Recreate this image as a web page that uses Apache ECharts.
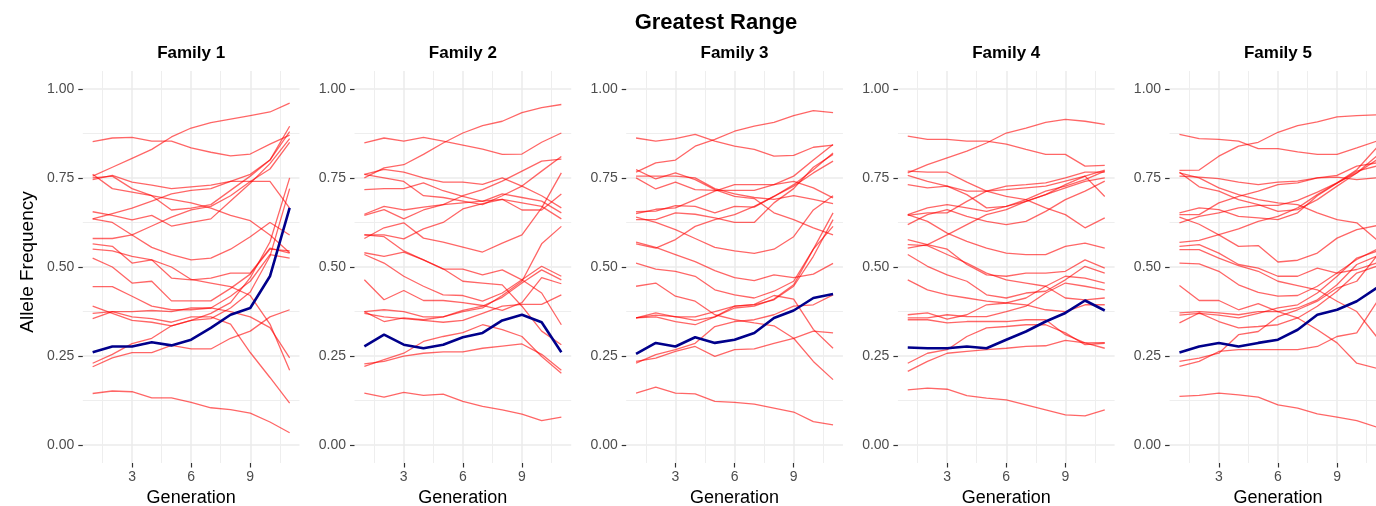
<!DOCTYPE html>
<html><head><meta charset="utf-8">
<script src="https://cdn.jsdelivr.net/npm/echarts@6/dist/echarts.min.js"></script>
<style>html,body{margin:0;padding:0;background:#fff}#c{width:1376px;height:506px}</style>
</head><body><div id="c"></div><script>
const generations = [1,2,3,4,5,6,7,8,9,10,11];
const familyNames = ['Family 1','Family 2','Family 3','Family 4','Family 5'];
const mainTitle = 'Greatest Range';
const xTickValues = [3,6,9];
const xMinorValues = [1.5,4.5,7.5,10.5];
const yTickValues = [0,0.25,0.5,0.75,1];
const yMinorValues = [0.125,0.375,0.625,0.875];

const family1Red = [
 [0.755,0.78,0.805,0.83,0.865,0.89,0.905,0.915,0.925,0.935,0.96],
 [0.852,0.862,0.864,0.853,0.853,0.834,0.822,0.812,0.817,0.845,0.87],
 [0.745,0.757,0.738,0.73,0.72,0.725,0.73,0.74,0.74,0.74,0.665],
 [0.76,0.72,0.71,0.70,0.66,0.665,0.675,0.715,0.755,0.80,0.88],
 [0.75,0.755,0.72,0.70,0.69,0.68,0.665,0.645,0.63,0.59,0.54],
 [0.655,0.645,0.632,0.645,0.615,0.625,0.635,0.685,0.735,0.79,0.86],
 [0.635,0.65,0.665,0.685,0.705,0.715,0.72,0.74,0.76,0.80,0.895],
 [0.635,0.625,0.59,0.555,0.535,0.52,0.525,0.55,0.585,0.625,0.59],
 [0.58,0.58,0.59,0.615,0.64,0.66,0.67,0.70,0.74,0.775,0.85],
 [0.565,0.558,0.511,0.52,0.469,0.464,0.469,0.483,0.483,0.553,0.539],
 [0.55,0.545,0.53,0.52,0.50,0.465,0.455,0.445,0.42,0.34,0.21],
 [0.525,0.50,0.455,0.46,0.405,0.405,0.405,0.44,0.48,0.55,0.545],
 [0.445,0.445,0.418,0.39,0.38,0.38,0.385,0.418,0.46,0.535,0.525],
 [0.39,0.37,0.35,0.345,0.335,0.35,0.355,0.385,0.43,0.53,0.72],
 [0.37,0.375,0.375,0.378,0.375,0.385,0.385,0.375,0.36,0.33,0.245],
 [0.355,0.375,0.36,0.355,0.345,0.36,0.36,0.34,0.26,0.19,0.118],
 [0.23,0.255,0.285,0.30,0.335,0.35,0.37,0.40,0.47,0.57,0.75],
 [0.22,0.245,0.26,0.26,0.28,0.27,0.27,0.30,0.32,0.36,0.38],
 [0.145,0.152,0.15,0.133,0.133,0.12,0.105,0.10,0.09,0.065,0.035]
];
const family1Blue = [0.261,0.277,0.277,0.289,0.28,0.296,0.329,0.366,0.385,0.474,0.666];

const family2Red = [
 [0.75,0.778,0.787,0.816,0.848,0.876,0.897,0.909,0.933,0.947,0.956],
 [0.848,0.862,0.853,0.864,0.853,0.842,0.831,0.816,0.817,0.85,0.876],
 [0.76,0.75,0.74,0.70,0.695,0.685,0.675,0.70,0.727,0.769,0.81],
 [0.645,0.661,0.635,0.66,0.675,0.70,0.717,0.741,0.769,0.797,0.803],
 [0.58,0.61,0.624,0.581,0.57,0.556,0.542,0.567,0.59,0.666,0.764],
 [0.375,0.38,0.375,0.36,0.36,0.375,0.385,0.42,0.46,0.565,0.614],
 [0.648,0.67,0.66,0.668,0.675,0.68,0.685,0.69,0.66,0.66,0.705],
 [0.76,0.774,0.766,0.75,0.738,0.738,0.732,0.75,0.727,0.70,0.666],
 [0.717,0.72,0.72,0.736,0.714,0.698,0.684,0.705,0.695,0.685,0.652],
 [0.59,0.59,0.579,0.607,0.625,0.663,0.678,0.69,0.68,0.67,0.635],
 [0.54,0.53,0.542,0.52,0.494,0.494,0.478,0.492,0.464,0.427,0.338],
 [0.535,0.511,0.474,0.446,0.422,0.42,0.404,0.427,0.464,0.502,0.474],
 [0.464,0.408,0.434,0.406,0.406,0.40,0.392,0.378,0.40,0.47,0.453],
 [0.375,0.347,0.357,0.352,0.36,0.378,0.39,0.415,0.455,0.492,0.464],
 [0.37,0.36,0.355,0.35,0.345,0.35,0.37,0.39,0.395,0.395,0.422],
 [0.59,0.585,0.545,0.52,0.495,0.46,0.455,0.45,0.39,0.32,0.282],
 [0.221,0.24,0.258,0.291,0.305,0.316,0.338,0.324,0.305,0.249,0.202],
 [0.228,0.235,0.25,0.258,0.262,0.262,0.272,0.278,0.284,0.255,0.21],
 [0.146,0.135,0.148,0.14,0.143,0.123,0.109,0.099,0.087,0.069,0.079]
];
const family2Blue = [0.277,0.31,0.282,0.272,0.282,0.303,0.315,0.35,0.366,0.345,0.261];

const family3Red = [
 [0.862,0.853,0.86,0.872,0.853,0.839,0.83,0.811,0.813,0.836,0.842],
 [0.766,0.792,0.80,0.839,0.858,0.881,0.895,0.906,0.925,0.939,0.933],
 [0.773,0.747,0.764,0.745,0.717,0.698,0.692,0.652,0.633,0.61,0.59],
 [0.75,0.719,0.738,0.717,0.715,0.715,0.715,0.731,0.74,0.722,0.694],
 [0.755,0.755,0.755,0.75,0.72,0.705,0.695,0.69,0.70,0.69,0.678],
 [0.655,0.657,0.672,0.67,0.652,0.67,0.668,0.698,0.727,0.764,0.797],
 [0.65,0.662,0.666,0.689,0.713,0.731,0.731,0.731,0.755,0.80,0.844],
 [0.633,0.633,0.652,0.648,0.638,0.625,0.625,0.68,0.72,0.78,0.816],
 [0.565,0.553,0.577,0.614,0.633,0.647,0.67,0.698,0.731,0.773,0.82],
 [0.64,0.625,0.605,0.58,0.555,0.545,0.538,0.55,0.585,0.66,0.70],
 [0.57,0.555,0.535,0.515,0.49,0.47,0.462,0.478,0.47,0.48,0.51],
 [0.511,0.494,0.488,0.474,0.436,0.422,0.413,0.432,0.46,0.55,0.652],
 [0.446,0.455,0.418,0.404,0.366,0.352,0.343,0.335,0.30,0.235,0.184],
 [0.357,0.371,0.36,0.36,0.375,0.39,0.394,0.408,0.446,0.53,0.633],
 [0.357,0.365,0.361,0.35,0.36,0.385,0.39,0.41,0.45,0.55,0.614],
 [0.357,0.36,0.347,0.338,0.36,0.39,0.395,0.42,0.41,0.325,0.272],
 [0.23,0.254,0.268,0.286,0.333,0.347,0.352,0.366,0.39,0.394,0.422],
 [0.235,0.244,0.263,0.277,0.249,0.268,0.27,0.286,0.30,0.32,0.315],
 [0.146,0.163,0.146,0.144,0.123,0.12,0.115,0.104,0.093,0.066,0.057]
];
const family3Blue = [0.256,0.287,0.277,0.303,0.287,0.296,0.315,0.357,0.378,0.413,0.424];

const family4Red = [
 [0.867,0.858,0.858,0.853,0.853,0.845,0.83,0.816,0.816,0.783,0.785],
 [0.764,0.787,0.806,0.825,0.848,0.876,0.89,0.906,0.914,0.909,0.90],
 [0.769,0.766,0.766,0.738,0.713,0.698,0.689,0.666,0.647,0.61,0.638],
 [0.757,0.74,0.727,0.703,0.666,0.67,0.684,0.703,0.731,0.755,0.772],
 [0.731,0.722,0.727,0.713,0.713,0.717,0.722,0.727,0.741,0.755,0.698],
 [0.647,0.666,0.675,0.666,0.656,0.67,0.689,0.713,0.727,0.745,0.769],
 [0.645,0.652,0.652,0.684,0.713,0.727,0.731,0.736,0.75,0.766,0.766],
 [0.619,0.647,0.661,0.642,0.628,0.619,0.628,0.656,0.689,0.713,0.741],
 [0.553,0.563,0.59,0.619,0.647,0.661,0.684,0.703,0.722,0.74,0.75],
 [0.647,0.628,0.595,0.572,0.553,0.539,0.535,0.535,0.558,0.567,0.553],
 [0.577,0.563,0.55,0.507,0.478,0.474,0.483,0.483,0.488,0.52,0.497],
 [0.563,0.56,0.535,0.511,0.483,0.464,0.455,0.446,0.413,0.408,0.413],
 [0.535,0.502,0.478,0.46,0.422,0.413,0.427,0.432,0.464,0.502,0.483],
 [0.464,0.436,0.422,0.413,0.404,0.399,0.394,0.38,0.375,0.394,0.394],
 [0.366,0.371,0.354,0.366,0.394,0.399,0.413,0.446,0.474,0.469,0.455],
 [0.357,0.357,0.366,0.361,0.361,0.375,0.39,0.427,0.455,0.446,0.436],
 [0.352,0.352,0.343,0.347,0.347,0.347,0.352,0.352,0.31,0.287,0.272],
 [0.23,0.258,0.268,0.305,0.329,0.333,0.338,0.338,0.315,0.282,0.286],
 [0.207,0.235,0.258,0.263,0.268,0.272,0.277,0.279,0.294,0.287,0.288],
 [0.155,0.16,0.157,0.139,0.132,0.127,0.113,0.099,0.085,0.082,0.099]
];
const family4Blue = [0.274,0.272,0.272,0.277,0.272,0.296,0.319,0.347,0.371,0.406,0.378];

const family5Red = [
 [0.872,0.86,0.858,0.853,0.832,0.832,0.823,0.816,0.816,0.834,0.853],
 [0.771,0.772,0.811,0.839,0.85,0.878,0.897,0.907,0.921,0.925,0.927],
 [0.766,0.725,0.713,0.689,0.675,0.656,0.661,0.689,0.727,0.764,0.80],
 [0.764,0.75,0.722,0.703,0.689,0.68,0.675,0.652,0.633,0.624,0.577],
 [0.755,0.752,0.748,0.738,0.731,0.738,0.741,0.75,0.752,0.745,0.75],
 [0.652,0.666,0.661,0.642,0.638,0.633,0.652,0.70,0.735,0.769,0.783],
 [0.647,0.647,0.68,0.698,0.713,0.731,0.736,0.75,0.757,0.783,0.792],
 [0.624,0.642,0.652,0.666,0.673,0.673,0.687,0.71,0.736,0.764,0.811],
 [0.569,0.575,0.591,0.607,0.628,0.642,0.666,0.703,0.736,0.773,0.834],
 [0.64,0.62,0.59,0.558,0.56,0.514,0.519,0.539,0.581,0.605,0.616],
 [0.558,0.563,0.539,0.507,0.497,0.474,0.474,0.497,0.483,0.493,0.511],
 [0.549,0.549,0.525,0.504,0.488,0.46,0.448,0.436,0.404,0.375,0.305],
 [0.511,0.509,0.488,0.45,0.429,0.418,0.42,0.446,0.483,0.521,0.549],
 [0.448,0.406,0.406,0.38,0.397,0.375,0.357,0.324,0.287,0.23,0.216],
 [0.371,0.375,0.371,0.366,0.375,0.375,0.385,0.408,0.45,0.507,0.53],
 [0.365,0.37,0.365,0.357,0.37,0.385,0.394,0.427,0.474,0.525,0.544],
 [0.343,0.371,0.347,0.329,0.333,0.338,0.357,0.39,0.432,0.483,0.502],
 [0.235,0.244,0.258,0.31,0.319,0.361,0.38,0.404,0.441,0.46,0.53],
 [0.221,0.235,0.263,0.268,0.268,0.268,0.268,0.277,0.305,0.315,0.40],
 [0.137,0.14,0.146,0.141,0.135,0.113,0.104,0.088,0.079,0.069,0.051]
];
const family5Blue = [0.26,0.277,0.287,0.277,0.287,0.296,0.324,0.366,0.38,0.404,0.441];

const redSets = [family1Red, family2Red, family3Red, family4Red, family5Red];
const blueSets = [family1Blue, family2Blue, family3Blue, family4Blue, family5Blue];

const FONT = '"Liberation Sans", Arial, sans-serif';
const gridLeft = [82.8, 354.5, 626.2, 897.9, 1169.6];
const gridW = 216.7, gridTop = 71, gridH = 392;
const GRID_MAJOR = '#ebebeb', GRID_MINOR = '#eeeeee';

const grids = [], xAxes = [], yAxes = [], series = [], titles = [];
titles.push({text: mainTitle, left: 716, top: 12, textAlign: 'center', padding: 0,
  textStyle: {fontFamily: FONT, fontSize: 22, fontWeight: 'bold', color: '#000'}});
for (let p = 0; p < 5; p++) {
  grids.push({left: gridLeft[p], top: gridTop, width: gridW, height: gridH,
    containLabel: false, outerBoundsMode: 'none'});
  titles.push({text: familyNames[p], left: gridLeft[p] + gridW / 2, top: 45, textAlign: 'center', padding: 0,
    textStyle: {fontFamily: FONT, fontSize: 17, fontWeight: 'bold', color: '#000'}});
  xAxes.push({type: 'value', gridIndex: p, min: 0.5, max: 11.5, position: 'bottom',
    name: 'Generation', nameLocation: 'middle', nameGap: 25,
    nameTextStyle: {fontFamily: FONT, fontSize: 18, color: '#000'},
    axisLine: {show: false, onZero: false},
    axisTick: {show: true, length: 4.5, customValues: xTickValues, lineStyle: {color: '#333', width: 1.2}},
    axisLabel: {show: true, customValues: xTickValues, margin: 7, fontFamily: FONT, fontSize: 14, color: '#4d4d4d'},
    splitLine: {show: true, lineStyle: {color: GRID_MAJOR, width: 1.5}}
  });
  xAxes.push({type: 'value', gridIndex: p, min: 0.5, max: 11.5, position: 'bottom',
    axisLine: {show: false, onZero: false},
    axisTick: {show: false, customValues: xMinorValues},
    axisLabel: {show: false, customValues: xMinorValues},
    splitLine: {show: true, lineStyle: {color: GRID_MINOR, width: 1}}
  });
  yAxes.push({type: 'value', gridIndex: p, min: -0.05, max: 1.05, position: 'left',
    name: p === 0 ? 'Allele Frequency' : '', nameLocation: 'middle', nameGap: 46,
    nameTextStyle: {fontFamily: FONT, fontSize: 19, color: '#000', padding: [0, 0, 0, 10]},
    axisLine: {show: false, onZero: false},
    axisTick: {show: true, length: 4.5, customValues: yTickValues, lineStyle: {color: '#333', width: 1.2}},
    axisLabel: {show: true, customValues: yTickValues, margin: 8.5, fontFamily: FONT, fontSize: 14, color: '#4d4d4d',
      formatter: v => Number(v).toFixed(2)},
    splitLine: {show: true, lineStyle: {color: GRID_MAJOR, width: 1.5}}
  });
  yAxes.push({type: 'value', gridIndex: p, min: -0.05, max: 1.05, position: 'left',
    axisLine: {show: false, onZero: false},
    axisTick: {show: false, customValues: yMinorValues},
    axisLabel: {show: false, customValues: yMinorValues},
    splitLine: {show: true, lineStyle: {color: GRID_MINOR, width: 1}}
  });
  redSets[p].forEach(vals => {
    series.push({type: 'line', xAxisIndex: p * 2, yAxisIndex: p * 2, z: 2,
      data: vals.map((v, i) => [generations[i], v]), showSymbol: false, symbol: 'none',
      lineStyle: {color: 'rgba(255,0,0,0.6)', width: 1.3}, silent: true});
  });
  series.push({type: 'line', xAxisIndex: p * 2, yAxisIndex: p * 2, z: 3,
    data: blueSets[p].map((v, i) => [generations[i], v]), showSymbol: false, symbol: 'none',
    lineStyle: {color: '#00008b', width: 2.6}, silent: true});
}

const chart = echarts.init(document.getElementById('c'));
chart.setOption({animation: false, backgroundColor: '#fff', title: titles, grid: grids,
  xAxis: xAxes, yAxis: yAxes, series: series});
</script></body></html>
